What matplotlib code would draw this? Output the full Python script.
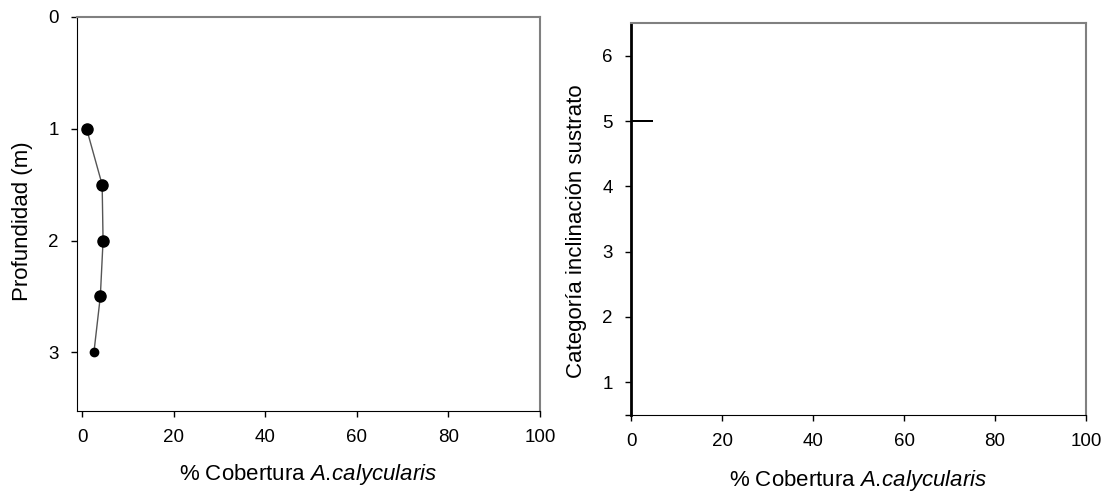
import matplotlib.pyplot as plt

plt.rcParams["font.family"] = ["Liberation Sans", "DejaVu Sans"]
plt.rcParams["mathtext.fontset"] = "custom"
plt.rcParams["mathtext.rm"] = "Liberation Sans"
plt.rcParams["mathtext.it"] = "Liberation Sans:italic"

# depth profile
depth = [1, 1.5, 2, 2.5, 3]
cover_depth = [0.9, 4.3, 4.5, 3.9, 2.5]
marker_sizes = [8, 8, 8, 8, 6]

# substrate inclination categories
categories = [1, 2, 3, 4, 5, 6]
cover_cat = [0, 0, 0, 0, 4.8, 0]

xticks = [0, 20, 40, 60, 80, 100]
gray = "#808080"
xlab = "% Cobertura $\\mathit{A.\\!calycularis}$"

fig = plt.figure(figsize=(11.11, 4.97), dpi=100)

# left panel
ax1 = fig.add_axes([0.0693, 0.174, 0.4167, 0.7918])
ax1.plot(cover_depth, depth, color="#555555", lw=1, zorder=2)
for x, y, s in zip(cover_depth, depth, marker_sizes):
    ax1.plot(x, y, "o", color="black", ms=s, zorder=3)
ax1.set_xlim(-1.2, 100)
ax1.set_ylim(3.52, 0)
ax1.set_xticks(xticks)
ax1.set_yticks([0, 1, 2, 3])
ax1.set_xlabel(xlab, fontsize=16, labelpad=12)
ax1.set_ylabel("Profundidad (m)", fontsize=16, labelpad=11, y=0.48)

# right panel
ax2 = fig.add_axes([0.568, 0.165, 0.4095, 0.7887])
ax2.barh(categories, cover_cat, height=0.04, color="black", zorder=3)
ax2.set_xlim(0, 100)
ax2.set_ylim(0.5, 6.5)
ax2.set_xticks(xticks)
ax2.set_yticks([0.5, 1, 2, 3, 4, 5, 6])
ax2.set_yticklabels(["", "1", "2", "3", "4", "5", "6"])
ax2.set_xlabel(xlab, fontsize=16, labelpad=13)
ax2.set_ylabel("Categoría inclinación sustrato", fontsize=16, labelpad=11, y=0.47)
ax2.spines["left"].set_linewidth(2)

for ax in (ax1, ax2):
    ax.spines["top"].set_color(gray)
    ax.spines["right"].set_color(gray)
    ax.spines["top"].set_linewidth(1.5)
    ax.spines["right"].set_linewidth(1.5)
    ax.tick_params(direction="out", length=4, width=1, labelsize=13.5, pad=9)

fig.savefig("out.png", dpi=100)
